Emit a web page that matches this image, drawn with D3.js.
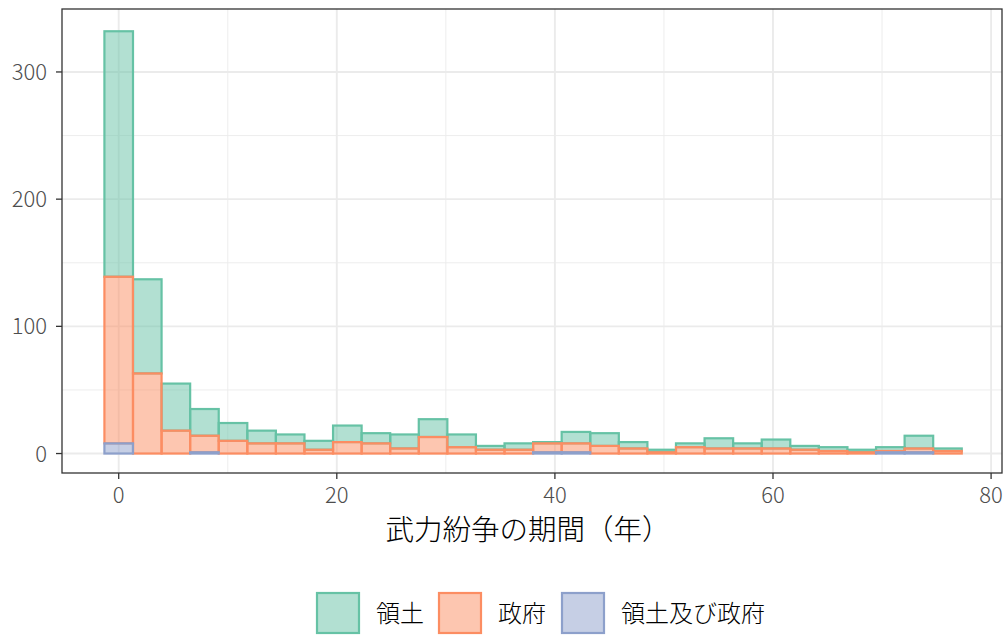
<!DOCTYPE html>
<html>
<head>
<meta charset="utf-8">
<script src="https://cdn.jsdelivr.net/npm/d3@7"></script>
<style>
body { margin: 0; background: #fff; }
text { font-family: "Noto Sans CJK JP", "Noto Sans", sans-serif; }
</style>
</head>
<body>
<script>
var w = 1006;
var h = 635;

// per-bin counts (30 bins, 0..76 years)
var seriesNames = ["領土", "政府", "領土及び政府"];
var territory = [193, 74, 37, 21, 14, 10, 7, 7, 13, 8, 11, 14, 10, 3, 5, 1, 9, 10, 5, 2, 3, 8, 4, 7, 3, 3, 2, 3, 10, 2];
var government = [131, 63, 18, 13, 10, 8, 8, 3, 9, 8, 4, 13, 5, 3, 3, 7, 7, 6, 4, 1, 5, 4, 4, 4, 3, 2, 1, 1, 3, 2];
var both = [8, 0, 0, 1, 0, 0, 0, 0, 0, 0, 0, 0, 0, 0, 0, 1, 1, 0, 0, 0, 0, 0, 0, 0, 0, 0, 0, 1, 1, 0];
var xTicks = [0, 20, 40, 60, 80];
var yTicks = [0, 100, 200, 300];
var xLabel = "武力紛争の期間（年）";

var maxYear = 76;
var nBins = territory.length;
var bw = maxYear / (nBins - 1);

var colors = ["#66C2A5", "#FC8D62", "#8DA0CB"];

var panel = { left: 62, right: 1002, top: 9, bottom: 473 };

//************** */
var x = d3.scaleLinear()
    .domain([-5.2, 81.0])
    .range([panel.left, panel.right]);

var y = d3.scaleLinear()
    .domain([-15.3, 349.5])
    .range([panel.bottom, panel.top]);

var svg = d3.select("body")
    .append("svg")
    .attr("width", w)
    .attr("height", h);

// grid
var xMinor = [10, 30, 50, 70];
var yMinor = [50, 150, 250];
svg.selectAll("line.xminor").data(xMinor).enter().append("line")
    .attr("x1", d => x(d)).attr("x2", d => x(d))
    .attr("y1", panel.top).attr("y2", panel.bottom)
    .style("stroke", "#EBEBEB").style("stroke-width", 0.9);
svg.selectAll("line.yminor").data(yMinor).enter().append("line")
    .attr("x1", panel.left).attr("x2", panel.right)
    .attr("y1", d => y(d)).attr("y2", d => y(d))
    .style("stroke", "#EBEBEB").style("stroke-width", 0.9);
svg.selectAll("line.xmajor").data(xTicks).enter().append("line")
    .attr("x1", d => x(d)).attr("x2", d => x(d))
    .attr("y1", panel.top).attr("y2", panel.bottom)
    .style("stroke", "#EBEBEB").style("stroke-width", 1.9);
svg.selectAll("line.ymajor").data(yTicks).enter().append("line")
    .attr("x1", panel.left).attr("x2", panel.right)
    .attr("y1", d => y(d)).attr("y2", d => y(d))
    .style("stroke", "#EBEBEB").style("stroke-width", 1.9);

//************** */
// stacked bars
var bins = d3.range(nBins).map(function (i) {
    return { i: i, vals: [territory[i], government[i], both[i]] };
});
var stack = [];
bins.forEach(function (b) {
    var base = 0;
    // bottom: both, then government, then territory on top
    for (var k = 2; k >= 0; k--) {
        stack.push({ i: b.i, k: k, y0: base, y1: base + b.vals[k] });
        base += b.vals[k];
    }
});
// draw territory first, then government, then both
stack.sort(function (a, b) { return a.k - b.k; });

svg.append("g").selectAll("rect")
    .data(stack)
    .enter()
    .append("rect")
    .attr("x", d => x(d.i * bw - bw / 2))
    .attr("width", d => x(d.i * bw + bw / 2) - x(d.i * bw - bw / 2))
    .attr("y", d => y(d.y1))
    .attr("height", d => y(d.y0) - y(d.y1))
    .style("fill", d => colors[d.k])
    .style("fill-opacity", 0.5)
    .style("stroke", d => colors[d.k])
    .style("stroke-width", 2.2);

// panel border
svg.append("rect")
    .attr("x", panel.left).attr("y", panel.top)
    .attr("width", panel.right - panel.left)
    .attr("height", panel.bottom - panel.top)
    .style("fill", "none").style("stroke", "#333333").style("stroke-width", 1.3);

//************** */
// axes
svg.selectAll("line.xtick").data(xTicks).enter().append("line")
    .attr("x1", d => x(d)).attr("x2", d => x(d))
    .attr("y1", panel.bottom).attr("y2", panel.bottom + 6)
    .style("stroke", "#333333").style("stroke-width", 1.3);
svg.selectAll("text.xtick").data(xTicks).enter().append("text")
    .attr("x", d => x(d)).attr("y", 503)
    .attr("text-anchor", "middle")
    .style("font-size", "22px").style("font-weight", 300)
    .style("fill", "#4D4D4D")
    .text(d => d);

svg.selectAll("line.ytick").data(yTicks).enter().append("line")
    .attr("x1", panel.left - 6).attr("x2", panel.left)
    .attr("y1", d => y(d)).attr("y2", d => y(d))
    .style("stroke", "#333333").style("stroke-width", 1.3);
svg.selectAll("text.ytick").data(yTicks).enter().append("text")
    .attr("x", 47).attr("y", d => y(d) + 8)
    .attr("text-anchor", "end")
    .style("font-size", "22px").style("font-weight", 300)
    .style("fill", "#4D4D4D")
    .text(d => d);

svg.append("text")
    .attr("x", 528).attr("y", 540)
    .attr("text-anchor", "middle")
    .style("font-size", "28.5px").style("font-weight", 300)
    .style("fill", "#000")
    .text(xLabel);

//************** */
// legend
var legendX = [317, 439, 562];
var lg = svg.selectAll("g.legend")
    .data(seriesNames)
    .enter()
    .append("g")
    .attr("transform", (d, i) => "translate(" + legendX[i] + ",593)");
lg.append("rect")
    .attr("x", 0).attr("y", 0)
    .attr("width", 42).attr("height", 40)
    .style("fill", (d, i) => colors[i])
    .style("fill-opacity", 0.5)
    .style("stroke", (d, i) => colors[i])
    .style("stroke-width", 2.2);
lg.append("text")
    .attr("x", 59).attr("y", 29)
    .style("font-size", "24px").style("font-weight", 300)
    .style("fill", "#000")
    .text(d => d);
</script>
</body>
</html>
